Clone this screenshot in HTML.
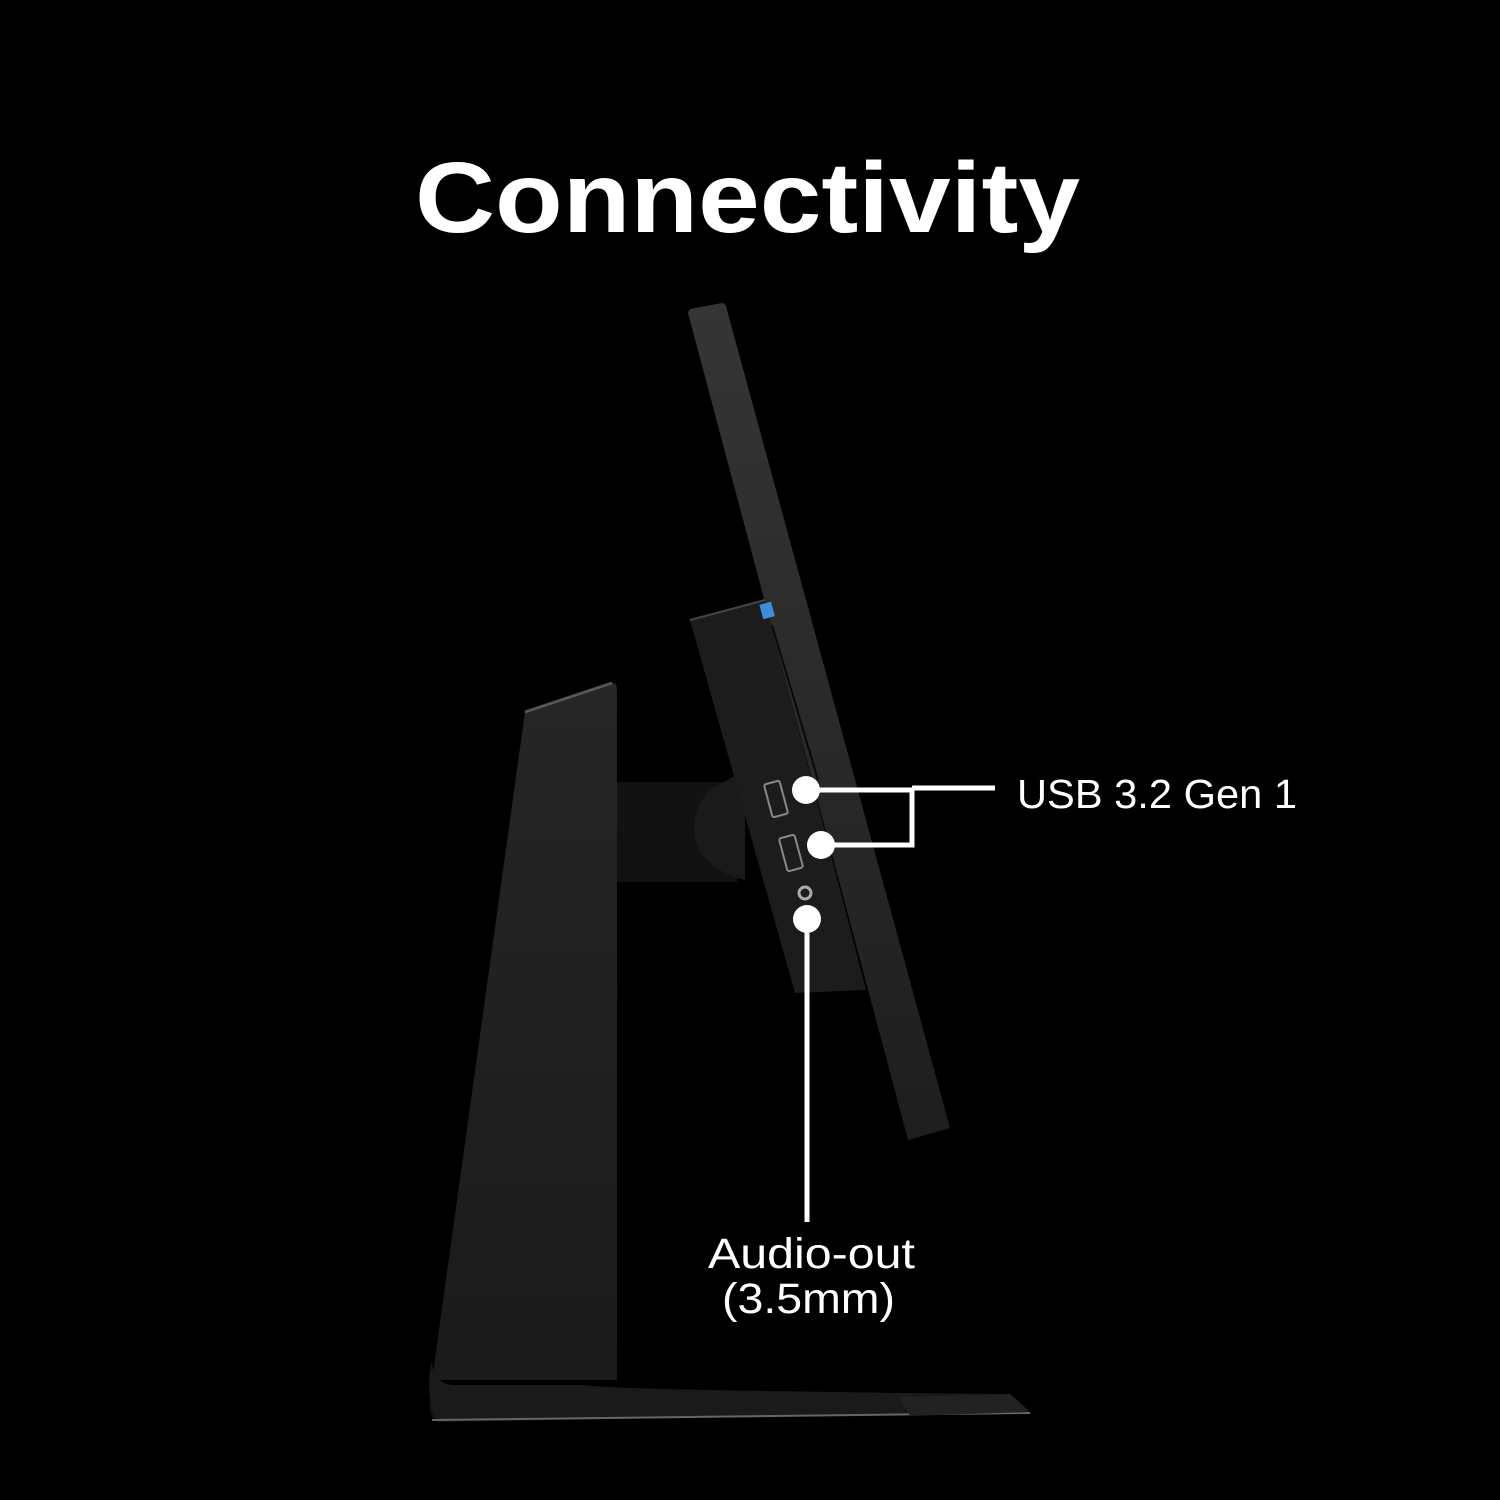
<!DOCTYPE html>
<html><head><meta charset="utf-8"><style>
html,body{margin:0;padding:0;background:#000;}
svg{display:block}
</style></head><body>
<svg width="1500" height="1500" viewBox="0 0 1500 1500" xmlns="http://www.w3.org/2000/svg">
<defs>
<linearGradient id="pg" x1="0" y1="0" x2="0" y2="1"><stop offset="0" stop-color="#353535"/><stop offset="1" stop-color="#1e1e1e"/></linearGradient>
<linearGradient id="sg" x1="0" y1="0" x2="0" y2="1"><stop offset="0" stop-color="#262626"/><stop offset="1" stop-color="#1a1a1a"/></linearGradient>
</defs>
<rect width="1500" height="1500" fill="#000"/>
<text x="415" y="232" font-family="Liberation Sans, sans-serif" font-weight="bold" font-size="100" fill="#fff" textLength="665" lengthAdjust="spacingAndGlyphs">Connectivity</text>

<!-- stand neck -->
<path d="M525 712 L612 683 Q617 682 617 690 L617 1380 L432 1380 Z" fill="url(#sg)"/>
<path d="M525 712 L612 683" stroke="#555" stroke-width="3"/>
<!-- base -->
<path d="M432 1362 Q430 1395 450 1400 L585 1388 Q600 1392 1010 1394 L1030 1412 L440 1422 Q428 1420 430 1400 Z" fill="#151515"/>
<path d="M432 1360 Q432 1385 455 1385 L585 1385 Q600 1390 1010 1394 L1030 1412 L440 1420 Q426 1410 430 1370 Z" fill="#1a1a1a"/>
<line x1="432" y1="1420" x2="1030" y2="1413" stroke="#666" stroke-width="2"/>
<path d="M900 1397 L1010 1394 L1030 1412 L910 1416 Z" fill="#222"/>

<!-- hinge -->
<rect x="617" y="782" width="120" height="100" fill="#121212"/>
<path d="M710 790 Q690 810 695 840 Q705 870 745 880 L745 770 Z" fill="#1a1a1a"/>

<!-- panel -->
<path d="M688 313 Q688 309 695 308 L722 303 Q726 303 727 310 L950 1128 L908 1140 Z" fill="url(#pg)"/>
<!-- back housing -->
<path d="M690 620 L765 600 L866 990 L795 993 Z" fill="#1c1c1c"/>
<path d="M690 620 L765 600" stroke="#444" stroke-width="2"/>
<line x1="772" y1="625" x2="818" y2="780" stroke="#0a0a0a" stroke-width="2"/>
<rect x="761" y="603" width="12" height="15" fill="#3a8fd8" transform="rotate(-15 767 610)"/>

<!-- ports -->
<rect x="768" y="782" width="16" height="34" rx="2" fill="none" stroke="#888" stroke-width="2" transform="rotate(-15 776 799)"/>
<rect x="783" y="836" width="16" height="34" rx="2" fill="none" stroke="#888" stroke-width="2" transform="rotate(-15 791 853)"/>
<circle cx="805" cy="893" r="6" fill="none" stroke="#aaa" stroke-width="3"/>

<!-- callouts -->
<g stroke="#fff" stroke-width="5" fill="none">
<polyline points="806,790 912,790 912,845 820,845"/>
<line x1="912" y1="788" x2="995" y2="788"/>
<line x1="807" y1="920" x2="807" y2="1222"/>
</g>
<circle cx="806" cy="790" r="14" fill="#fff"/>
<circle cx="821" cy="845" r="14" fill="#fff"/>
<circle cx="807" cy="919" r="14" fill="#fff"/>

<text x="1017" y="808" font-family="Liberation Sans, sans-serif" font-size="41" fill="#fff" textLength="280" lengthAdjust="spacingAndGlyphs">USB 3.2 Gen 1</text>
<text x="708" y="1268" font-family="Liberation Sans, sans-serif" font-size="43" fill="#fff" textLength="207" lengthAdjust="spacingAndGlyphs">Audio-out</text>
<text x="722" y="1313" font-family="Liberation Sans, sans-serif" font-size="43" fill="#fff" textLength="173" lengthAdjust="spacingAndGlyphs">(3.5mm)</text>
</svg>
</body></html>
